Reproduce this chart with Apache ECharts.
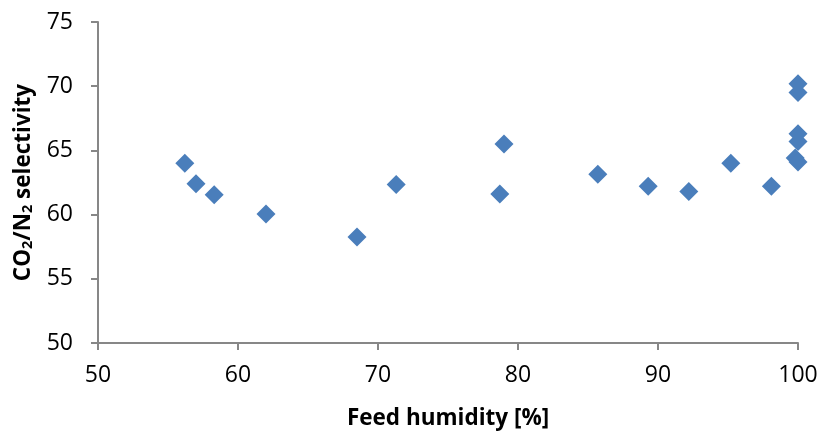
<!DOCTYPE html>
<html>
<head>
<meta charset="utf-8">
<script src="https://cdn.jsdelivr.net/npm/echarts@6/dist/echarts.min.js"></script>
<style>
  html, body { margin: 0; padding: 0; background: #ffffff; }
  #chart { width: 821px; height: 433px; }
</style>
</head>
<body>
<div id="chart"></div>
<script>
// Feed humidity [%] and the measured CO2/N2 selectivity at each condition
const humidity = [56.2, 57.0, 58.3, 62.0, 68.5, 71.3, 78.7, 79.0, 85.7, 89.3, 92.2, 95.2, 98.1,
                  100, 100, 100, 100, 99.8, 100];
const selectivity = [64.0, 62.4, 61.55, 60.05, 58.25, 62.35, 61.6, 65.5, 63.15, 62.2, 61.8, 64.0, 62.2,
                     70.2, 69.5, 66.3, 65.7, 64.4, 64.1];

const xTicks = { min: 50, max: 100, step: 10 };
const yTicks = { min: 50, max: 75, step: 5 };

const points = humidity.map((h, i) => [h, selectivity[i]]);

const axisGrey = '#878787';
const labelFont = 'Open Sans';

const chart = echarts.init(document.getElementById('chart'), null, { renderer: 'canvas' });
chart.setOption({
  animation: false,
  backgroundColor: '#ffffff',
  grid: { left: 98, right: 23, top: 22, bottom: 90, containLabel: false, outerBoundsMode: 'none' },
  xAxis: {
    type: 'value',
    min: xTicks.min, max: xTicks.max, interval: xTicks.step,
    name: 'Feed humidity [%]',
    nameLocation: 'middle',
    nameGap: 64,
    nameTextStyle: { fontFamily: labelFont, fontWeight: 'bold', fontSize: 22.5, color: '#000' },
    axisLine: { show: true, lineStyle: { color: axisGrey, width: 2 } },
    axisTick: { show: true, inside: false, length: 7, lineStyle: { color: axisGrey, width: 2 } },
    axisLabel: { fontFamily: labelFont, fontSize: 23, color: '#000', margin: 21 },
    splitLine: { show: false }
  },
  yAxis: {
    type: 'value',
    min: yTicks.min, max: yTicks.max, interval: yTicks.step,
    name: '{b|CO}{s|2}{b|/N}{s|2}{b| selectivity}',
    nameLocation: 'middle',
    nameRotate: 90,
    nameGap: 58,
    nameTextStyle: {
      color: '#000',
      rich: {
        b: { fontFamily: labelFont, fontWeight: 'bold', fontSize: 22.5, color: '#000', lineHeight: 28 },
        s: { fontFamily: labelFont, fontWeight: 'bold', fontSize: 14.5, color: '#000', lineHeight: 28, padding: [10, 0, 0, 0] }
      }
    },
    axisLine: { show: true, lineStyle: { color: axisGrey, width: 2 } },
    axisTick: { show: true, inside: false, length: 7, lineStyle: { color: axisGrey, width: 2 } },
    axisLabel: { fontFamily: labelFont, fontSize: 23, color: '#000', margin: 25 },
    splitLine: { show: false }
  },
  series: [{
    type: 'scatter',
    data: points,
    symbol: 'diamond',
    symbolSize: 19,
    itemStyle: { color: '#4a7ebb', opacity: 1 }
  }]
});
</script>
</body>
</html>
